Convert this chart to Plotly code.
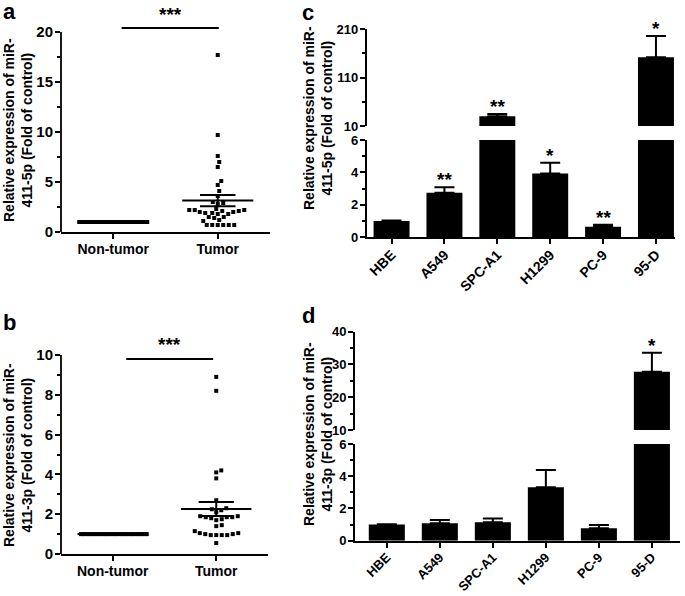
import numpy as np
import plotly.graph_objects as go

W, H = 685, 596
FONT = "Arial, Liberation Sans, sans-serif"

# ---- data ----
groups = ["Non-tumor", "Tumor"]

a_nontumor = [1.0, 1.0, 1.0, 1.0, 1.0, 1.0, 1.0, 1.0, 1.0, 1.0, 1.0, 1.0,
              1.0, 1.0, 1.0, 1.0, 1.0, 1.0, 1.0, 1.0, 1.0, 1.0, 1.0, 1.0,
              1.0, 1.0, 1.0, 1.0, 1.0, 1.0, 1.0, 1.0, 1.0, 1.0, 1.0]
a_tumor = [17.7, 9.7, 7.6, 7.0, 6.5, 5.1, 4.7, 4.1, 3.6, 3.0, 2.9, 2.8,
           2.3, 2.2, 2.2, 2.1, 2.0, 1.9, 1.8, 1.8, 1.9, 2.0, 2.1, 2.2,
           1.5, 1.5, 1.4, 1.1, 1.2, 0.7, 0.7, 0.7, 0.7, 0.7, 0.7]

b_nontumor = [1.0, 1.0, 1.0, 1.0, 1.0, 1.0, 1.0, 1.0, 1.0, 1.0, 1.0, 1.0,
              1.0, 1.0, 1.0, 1.0, 1.0, 1.0, 1.0, 1.0, 1.0, 1.0, 1.0, 1.0,
              1.0, 1.0, 1.0, 1.0, 1.0, 1.0]
b_tumor = [8.9, 8.2, 4.2, 4.1, 3.8, 2.7, 2.3, 2.25, 2.2, 2.1, 1.9, 1.85,
           1.85, 1.8, 1.85, 1.9, 1.75, 1.7, 1.45, 1.4, 1.15, 1.05, 1.0,
           0.95, 0.95, 0.95, 0.95, 1.0, 1.05, 0.55]

cell_lines = ["HBE", "A549", "SPC-A1", "H1299", "PC-9", "95-D"]
c_mean = [1.0, 2.75, 30.0, 3.94, 0.65, 152.0]
c_err = [0.03, 0.33, 5.0, 0.66, 0.13, 44.0]
c_sig = ["", "**", "**", "*", "**", "*"]

d_mean = [1.0, 1.08, 1.14, 3.32, 0.77, 27.8]
d_err = [0.02, 0.2, 0.23, 1.07, 0.2, 5.8]
d_sig = ["", "", "", "", "", "*"]


def px(x):
    return x / W


def py(y):
    return 1 - y / H


def swarm(vals, center, ppx, ppy, d=5.2, max_half=34):
    vals = np.asarray(vals, dtype=float)
    placed = []
    xs = np.zeros(len(vals))
    for k in np.argsort(vals, kind="stable"):
        y = vals[k] * ppy
        best = None
        step = 0
        while best is None:
            cands = [0.0] if step == 0 else [step * 0.5, -step * 0.5]
            for c in cands:
                if all((c - a) ** 2 + (y - b) ** 2 >= d * d for a, b in placed):
                    best = c
                    break
            step += 1
        placed.append((best, y))
        xs[k] = best
    m = np.abs(xs).max()
    if m > max_half:
        xs = xs * max_half / m
    return center + xs / ppx


axis_style = dict(showgrid=False, zeroline=False, linecolor="black", linewidth=1.8,
                  ticks="outside", ticklen=5, tickwidth=1.8, tickcolor="black",
                  automargin=False,
                  tickfont=dict(family=FONT, size=14, color="black", weight="bold"))

fig = go.Figure()
annotations = []
shapes = []


def dot_panel(n, nont, tum, x0, x1, y0, ytop, ymax, yr, yticks, yminor, sig_y, sig_x,
              star_shift):
    xa, ya = ("x", "y") if n == 1 else ("x%d" % n, "y%d" % n)
    ppx = (x1 - x0) / 2.0
    ppy = (y0 - ytop) / float(ymax)
    for i, vals in enumerate([nont, tum]):
        xs = swarm(vals, i, ppx, ppy)
        fig.add_trace(go.Scatter(x=xs, y=vals, mode="markers", xaxis=xa, yaxis=ya,
                                 marker=dict(symbol="square", size=4, color="black"),
                                 showlegend=False, cliponaxis=False))
        v = np.asarray(vals)
        m = v.mean()
        s = v.std(ddof=1) / np.sqrt(len(v))
        lx = [i - 0.34, i + 0.34, None, i - 0.17, i + 0.17, None,
              i - 0.17, i + 0.17, None, i, i]
        ly = [m, m, None, m + s, m + s, None, m - s, m - s, None, m - s, m + s]
        fig.add_trace(go.Scatter(x=lx, y=ly, mode="lines", xaxis=xa, yaxis=ya,
                                 line=dict(color="black", width=2), showlegend=False))
    kx = "xaxis" if n == 1 else "xaxis%d" % n
    ky = "yaxis" if n == 1 else "yaxis%d" % n
    fig.update_layout({
        kx: dict(axis_style, domain=[px(x0), px(x1)], range=[-0.5, 1.5], anchor=ya,
                 tickvals=[0, 1], ticktext=groups, showline=True,
                 ticklabelstandoff=-2),
        ky: dict(axis_style, domain=[py(y0), py(y0 - yr * ppy)], range=[0, yr],
                 anchor=xa, tickvals=yticks, showline=False, ticklabelstandoff=-1,
                 tickfont=dict(family=FONT, size=15, color="black", weight="bold"),
                 minor=dict(tickvals=yminor, ticks="outside", ticklen=3,
                            tickwidth=1.5, tickcolor="black")),
    })
    # y axis line only up to the top tick
    shapes.append(dict(type="line", xref=xa + " domain", yref=ya, x0=0, x1=0,
                       y0=0, y1=ymax, line=dict(color="black", width=1.8)))
    # significance bar
    shapes.append(dict(type="line", xref=xa, yref=ya, x0=sig_x[0], x1=sig_x[1],
                       y0=sig_y, y1=sig_y, line=dict(color="black", width=1.8)))
    annotations.append(dict(x=(sig_x[0] + sig_x[1]) / 2, y=sig_y, xref=xa, yref=ya,
                            text="***", showarrow=False, yanchor="bottom",
                            yshift=star_shift,
                            font=dict(family=FONT, size=19, color="black", weight="bold")))


dot_panel(1, a_nontumor, a_tumor, 61, 270, 232, 32, 20, 21,
          [0, 5, 10, 15, 20], [2.5, 7.5, 12.5, 17.5], 20.4, (0.08, 1.01), 1)
dot_panel(2, b_nontumor, b_tumor, 61, 268, 554, 355, 10, 10,
          [0, 2, 4, 6, 8, 10], [1, 3, 5, 7, 9], 9.8, (0.13, 0.97), 2)


def bar_panel(nlo, nhi, means, errs, sigs, x0, x1, xr, lo_dom, hi_dom, hi_range,
              hi_ticks, hi_minor, xfont):
    for n, yr, dom, tv, mv in [(nlo, [0, 6], lo_dom, [0, 2, 4, 6], [1, 3, 5]),
                               (nhi, hi_range, hi_dom, hi_ticks, hi_minor)]:
        xa, ya = "x%d" % n, "y%d" % n
        fig.add_trace(go.Bar(x=cell_lines, y=means, xaxis=xa, yaxis=ya,
                             marker=dict(color="black", line=dict(width=0)),
                             error_y=dict(type="data", array=errs,
                                          arrayminus=[0] * len(errs), symmetric=False,
                                          color="black", thickness=2, width=10),
                             showlegend=False))
        xd = dict(axis_style, domain=[px(x0), px(x1)], range=xr, anchor=ya,
                  type="category", categoryorder="array", categoryarray=cell_lines,
                  showline=True, tickangle=-45, ticklabelstandoff=-3,
                  tickfont=dict(family=FONT, size=xfont, color="black", weight="bold"))
        if n == nhi:
            xd = dict(domain=[px(x0), px(x1)], range=xr, anchor=ya, type="category",
                      matches="x%d" % nlo, visible=False, automargin=False)
        fig.update_layout({
            "xaxis%d" % n: xd,
            "yaxis%d" % n: dict(axis_style, domain=[py(dom[0]), py(dom[1])], range=yr,
                                anchor=xa, tickvals=tv, showline=True,
                                ticklabelstandoff=-1,
                                tickfont=dict(family=FONT, size=13, color="black",
                                              weight="bold"),
                                minor=dict(tickvals=mv, ticks="outside", ticklen=3,
                                           tickwidth=1.5, tickcolor="black")),
        })
    for i, s in enumerate(sigs):
        if not s:
            continue
        top = means[i] + errs[i]
        n = nhi if top > 6 else nlo
        annotations.append(dict(x=cell_lines[i], y=top, xref="x%d" % n, yref="y%d" % n,
                                text=s, showarrow=False, yanchor="bottom", yshift=-5,
                                font=dict(family=FONT, size=19, color="black",
                                          weight="bold")))


bar_panel(3, 4, c_mean, c_err, c_sig, 366.7, 675, [-0.47, 5.36],
          (237.3, 140), (126, 29.3), [10, 210], [10, 110, 210], [60, 160], 14)
bar_panel(5, 6, d_mean, d_err, d_sig, 355, 680, [-0.6, 5.53],
          (540.7, 444), (430, 331.7), [10, 40], [10, 20, 30, 40], [15, 25, 35], 13)

# y axis titles
for cx, cy, lab in [(18, 130, "411-5p"), (18, 455, "411-3p"),
                    (318, 118, "411-5p"), (318, 434, "411-3p")]:
    annotations.append(dict(x=px(cx), y=py(cy), xref="paper", yref="paper",
                            text="Relative expression of miR-<br>" + lab + " (Fold of control)",
                            textangle=-90, showarrow=False, xanchor="center",
                            yanchor="middle",
                            font=dict(family=FONT, size=14, color="black", weight="bold")))

# panel letters
for cx, cy, lab in [(9, 12, "a"), (9, 322, "b"), (308, 13, "c"), (308, 315, "d")]:
    annotations.append(dict(x=px(cx), y=py(cy), xref="paper", yref="paper", text=lab,
                            showarrow=False, xanchor="center", yanchor="middle",
                            font=dict(family=FONT, size=22, color="black", weight="bold")))

fig.update_layout(width=W, height=H, margin=dict(l=0, r=0, t=0, b=0),
                  paper_bgcolor="white", plot_bgcolor="white", bargap=0.32,
                  annotations=annotations, shapes=shapes, showlegend=False)

# page has a default 8px body margin; drop it so the figure fills the window
fig.write_html("out.html", config={"displayModeBar": False},
               post_script="document.body.style.margin='0';")
